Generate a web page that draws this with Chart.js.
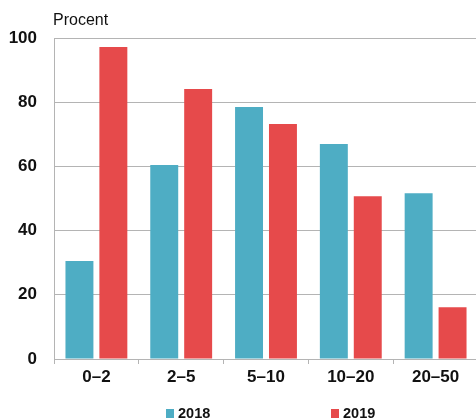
<!DOCTYPE html>
<html>
<head>
<meta charset="utf-8">
<script src="https://cdn.jsdelivr.net/npm/chart.js@4"></script>
<style>
  html, body { margin: 0; padding: 0; background: #fff; overflow: hidden; }
  #wrap { position: relative; width: 480px; height: 419px; }
</style>
</head>
<body>
<div id="wrap"><canvas id="chart" width="480" height="419"></canvas></div>
<script>
// intervals (storlek) and share per year, in percent
const categories = ["0–2", "2–5", "5–10", "10–20", "20–50"];
const values2018 = [30.5, 60.4, 78.5, 67.0, 51.6];
const values2019 = [97.2, 84.1, 73.2, 50.7, 16.1];
const yTicks = [0, 20, 40, 60, 80, 100];

const TEAL = "#4eadc4";
const RED = "#e64a4b";
const GRID = "#b4b4b4";
const FONT = "Liberation Sans, Arial, sans-serif";

// unit label above the axis and the legend row at the bottom
const extras = {
  id: "extras",
  afterDraw(chart) {
    const ctx = chart.ctx;
    const area = chart.chartArea;
    ctx.save();
    ctx.fillStyle = "#111";
    ctx.font = "16px " + FONT;
    ctx.textBaseline = "alphabetic";
    ctx.textAlign = "left";
    ctx.fillText("Procent", area.left - 1, 25);

    const items = [
      { label: "2018", color: TEAL, x: 166 },
      { label: "2019", color: RED, x: 331 },
    ];
    ctx.font = "bold 14.5px " + FONT;
    for (const it of items) {
      ctx.fillStyle = it.color;
      ctx.fillRect(it.x, 409, 8, 9);
      ctx.fillStyle = "#111";
      ctx.fillText(it.label, it.x + 12, 418);
    }
    ctx.restore();
  },
};

new Chart(document.getElementById("chart"), {
  type: "bar",
  data: {
    labels: categories,
    datasets: [
      { label: "2018", data: values2018, backgroundColor: TEAL },
      { label: "2019", data: values2019, backgroundColor: RED },
    ],
  },
  options: {
    responsive: false,
    animation: false,
    layout: { padding: { top: 38, right: 2, left: 0, bottom: 0 } },
    plugins: {
      legend: { display: false },
      tooltip: { enabled: false },
    },
    datasets: {
      bar: { categoryPercentage: 0.8, barPercentage: 0.824 },
    },
    scales: {
      x: {
        grid: {
          display: true,
          offset: true,
          drawOnChartArea: false,
          drawTicks: true,
          tickLength: 5,
          color: GRID,
        },
        border: { color: GRID, width: 1 },
        ticks: {
          color: "#111",
          font: { family: FONT, size: 17, weight: "bold" },
          padding: 3,
        },
        afterFit(scale) { scale.height = 60; },
      },
      y: {
        min: 0,
        max: 100,
        afterBuildTicks(scale) {
          scale.ticks = yTicks.map((v) => ({ value: v }));
        },
        grid: { color: GRID, drawTicks: false },
        border: { color: GRID, width: 1 },
        ticks: {
          color: "#111",
          font: { family: FONT, size: 17, weight: "bold" },
          padding: 17,
        },
        afterFit(scale) { scale.width = 54; },
      },
    },
  },
  plugins: [extras],
});
</script>
</body>
</html>
